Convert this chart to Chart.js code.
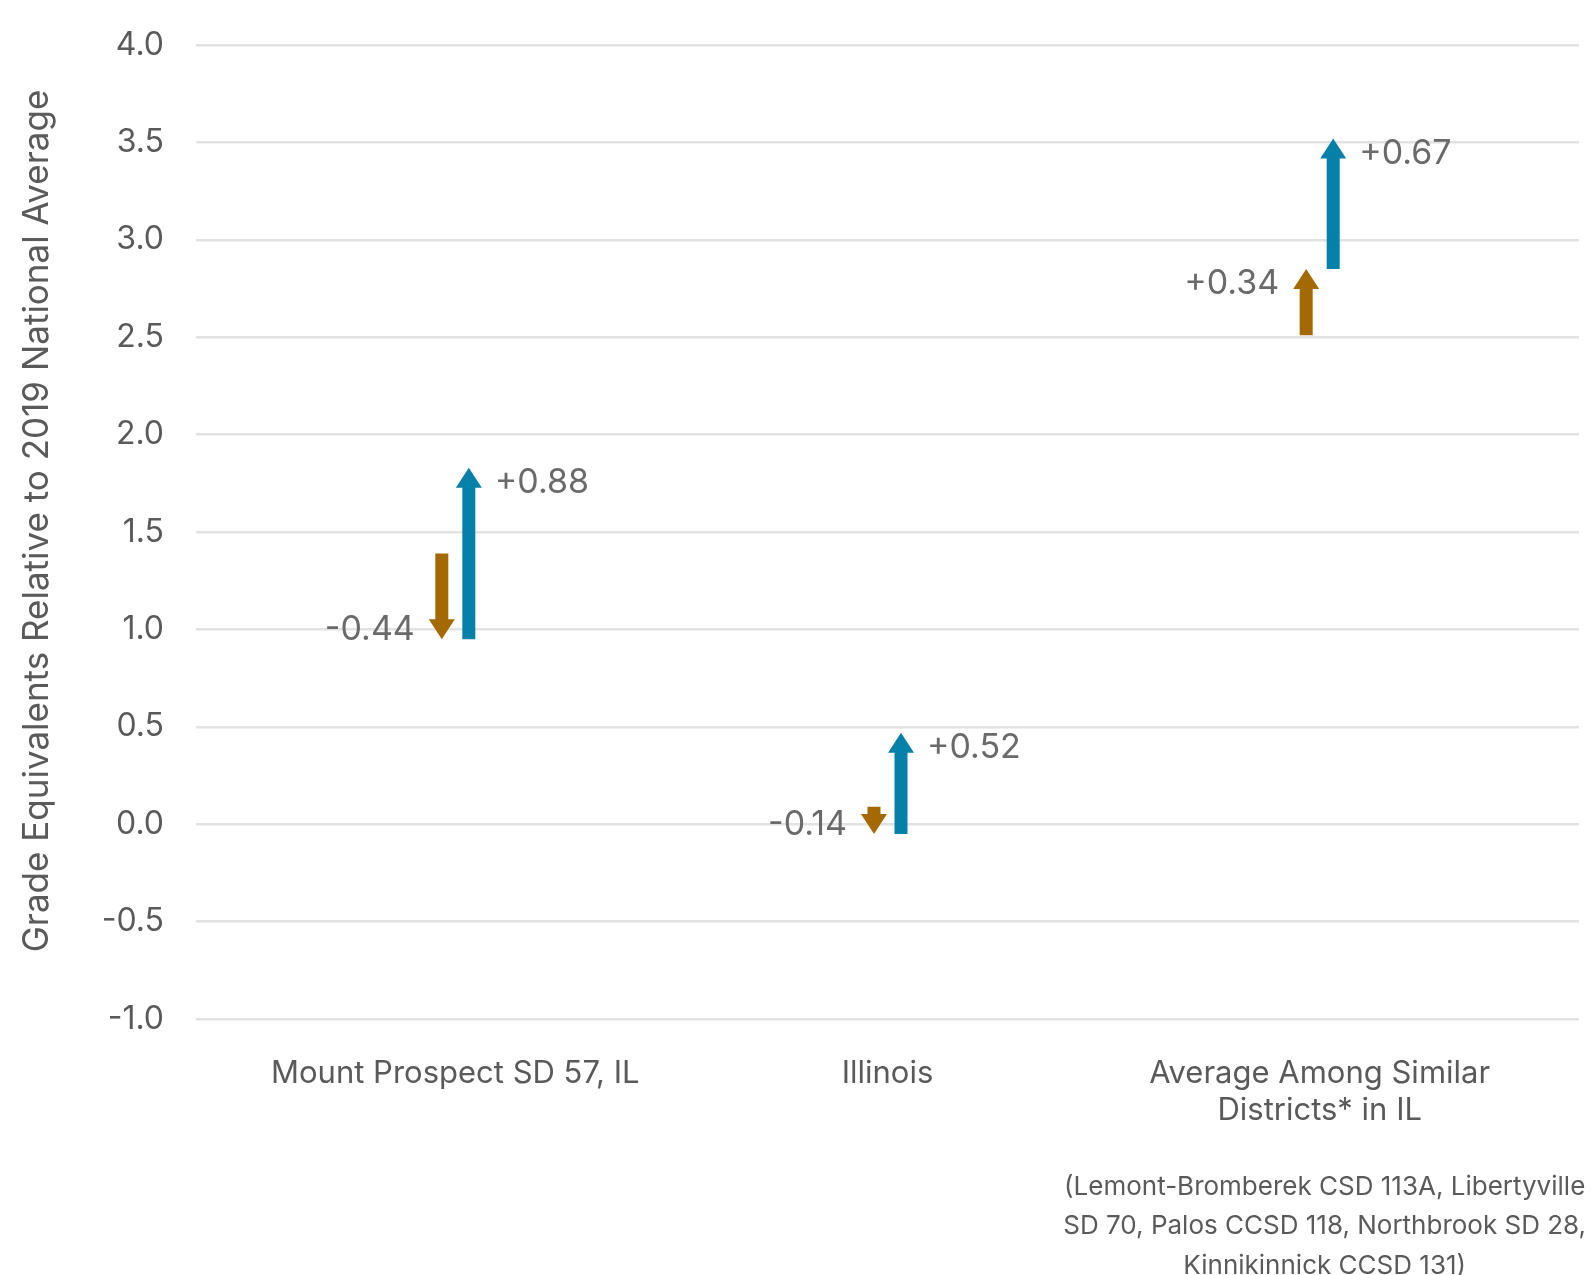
<!DOCTYPE html>
<html>
<head>
<meta charset="utf-8">
<script src="https://cdn.jsdelivr.net/npm/chart.js@4.4.0/dist/chart.umd.min.js"></script>
<style>
  html, body { margin: 0; padding: 0; background: #fff; }
  #wrap { width: 1592px; height: 1275px; position: relative; }
</style>
</head>
<body>
<div id="wrap"><canvas id="gapChart"></canvas></div>
<script>
// categories (x positions 0,1,2) and their tick labels
const catPos = [0, 1, 2];
const catLabels = [
  ["Mount Prospect SD 57, IL"],
  ["Illinois"],
  ["Average Among Similar", "Districts* in IL"]
];

// grade equivalents
const firstScores = [1.39, 0.09, 2.51];
const midScores = [0.95, -0.05, 2.85];
const lastScores = [1.83, 0.47, 3.52];

// printed changes
const firstChange = ["-0.44", "-0.14", "+0.34"];
const secondChange = ["+0.88", "+0.52", "+0.67"];

const yMin = -1.0, yMax = 4.0, yStep = 0.5;
const yTitle = "Grade Equivalents Relative to 2019 National Average";
const footnote = [
  "(Lemont-Bromberek CSD 113A, Libertyville",
  "SD 70, Palos CCSD 118, Northbrook SD 28,",
  "Kinnikinnick CCSD 131)"
];

const ORANGE = "#a46900";
const BLUE = "#0580a8";
const GREY = "#5a5a5a";
const FONT = "Inter, 'Noto Sans', sans-serif";

Chart.defaults.font.family = FONT;
Chart.defaults.color = GREY;

// arrows are drawn over the (invisible) floating bars
const arrowPlugin = {
  id: "arrows",
  afterDatasetsDraw(chart) {
    const ctx = chart.ctx;
    const y = chart.scales.y;
    chart.data.datasets.forEach((ds, di) => {
      const meta = chart.getDatasetMeta(di);
      meta.data.forEach((bar, i) => {
        const from = y.getPixelForValue(ds.arrowFrom[i]);
        const to = y.getPixelForValue(ds.arrowTo[i]);
        const dir = to < from ? 1 : -1;
        const x = bar.x;
        const sw = 13, hw = 26, hh = 20;
        const neck = to + dir * hh;
        ctx.save();
        ctx.beginPath();
        ctx.moveTo(x - sw / 2, from);
        ctx.lineTo(x - sw / 2, neck);
        ctx.lineTo(x - hw / 2, neck);
        ctx.lineTo(x, to);
        ctx.lineTo(x + hw / 2, neck);
        ctx.lineTo(x + sw / 2, neck);
        ctx.lineTo(x + sw / 2, from);
        ctx.closePath();
        ctx.fillStyle = ds.arrowColor;
        ctx.fill();

        ctx.font = "34px " + FONT;
        ctx.fillStyle = "#6a6a6a";
        ctx.textBaseline = "middle";
        const ly = to + dir * 12 + 3;
        if (ds.labelSide === "left") {
          ctx.textAlign = "right";
          ctx.fillText(ds.changeText[i], x - hw / 2 - 14, ly);
        } else {
          ctx.textAlign = "left";
          ctx.fillText(ds.changeText[i], x + hw / 2 + 13, ly);
        }
        ctx.restore();
      });
    });
  }
};

// y title (sits a little above the middle of the plot, as in the original)
// and the footnote under the third category
const textPlugin = {
  id: "extraText",
  afterDraw(chart) {
    const ctx = chart.ctx;
    const area = chart.chartArea;
    ctx.save();
    ctx.fillStyle = GREY;
    ctx.textAlign = "center";
    ctx.textBaseline = "middle";

    ctx.save();
    ctx.translate(37, (area.top + area.bottom) / 2 - 11);
    ctx.rotate(-Math.PI / 2);
    ctx.font = "35px " + FONT;
    ctx.fillText(yTitle, 0, 0);
    ctx.restore();

    const cx = chart.scales.x.getPixelForValue(2) + 5;
    ctx.font = "26px " + FONT;
    footnote.forEach((line, i) => {
      ctx.fillText(line, cx, area.bottom + 168 + i * 39.5);
    });
    ctx.restore();
  }
};

const ctx = document.getElementById("gapChart").getContext("2d");
new Chart(ctx, {
  type: "bar",
  data: {
    datasets: [
      {
        label: "first change",
        data: catPos.map((c, i) => ({ x: c, y: [firstScores[i], midScores[i]] })),
        backgroundColor: "rgba(0,0,0,0)",
        arrowFrom: firstScores,
        arrowTo: midScores,
        arrowColor: ORANGE,
        changeText: firstChange,
        labelSide: "left",
        categoryPercentage: 0.125,
        barPercentage: 0.48
      },
      {
        label: "second change",
        data: catPos.map((c, i) => ({ x: c, y: [midScores[i], lastScores[i]] })),
        backgroundColor: "rgba(0,0,0,0)",
        arrowFrom: midScores,
        arrowTo: lastScores,
        arrowColor: BLUE,
        changeText: secondChange,
        labelSide: "right",
        categoryPercentage: 0.125,
        barPercentage: 0.48
      }
    ]
  },
  options: {
    responsive: true,
    maintainAspectRatio: false,
    animation: false,
    layout: { padding: { top: 45, right: 13, left: 0, bottom: 0 } },
    plugins: {
      legend: { display: false },
      tooltip: { enabled: false }
    },
    scales: {
      x: {
        type: "linear",
        min: -0.6,
        max: 2.6,
        offset: false,
        grid: { display: false, offset: false },
        border: { display: false },
        ticks: {
          stepSize: 1,
          includeBounds: false,
          autoSkip: false,
          maxRotation: 0,
          padding: 29,
          color: GREY,
          font: { size: 31, lineHeight: 1.17 },
          callback: v => catLabels[v]
        },
        afterFit: s => { s.height = 256; }
      },
      y: {
        min: yMin,
        max: yMax,
        grid: { color: "#e2e2e2", lineWidth: 2.5, drawTicks: false },
        border: { display: false },
        ticks: {
          stepSize: yStep,
          padding: 32,
          color: GREY,
          font: { size: 32 },
          callback: v => v.toFixed(1)
        },
        afterFit: s => {
          s.width = 196;
          s.paddingTop = 0;
          s.paddingBottom = 0;
        }
      }
    }
  },
  plugins: [arrowPlugin, textPlugin]
});
</script>
</body>
</html>
